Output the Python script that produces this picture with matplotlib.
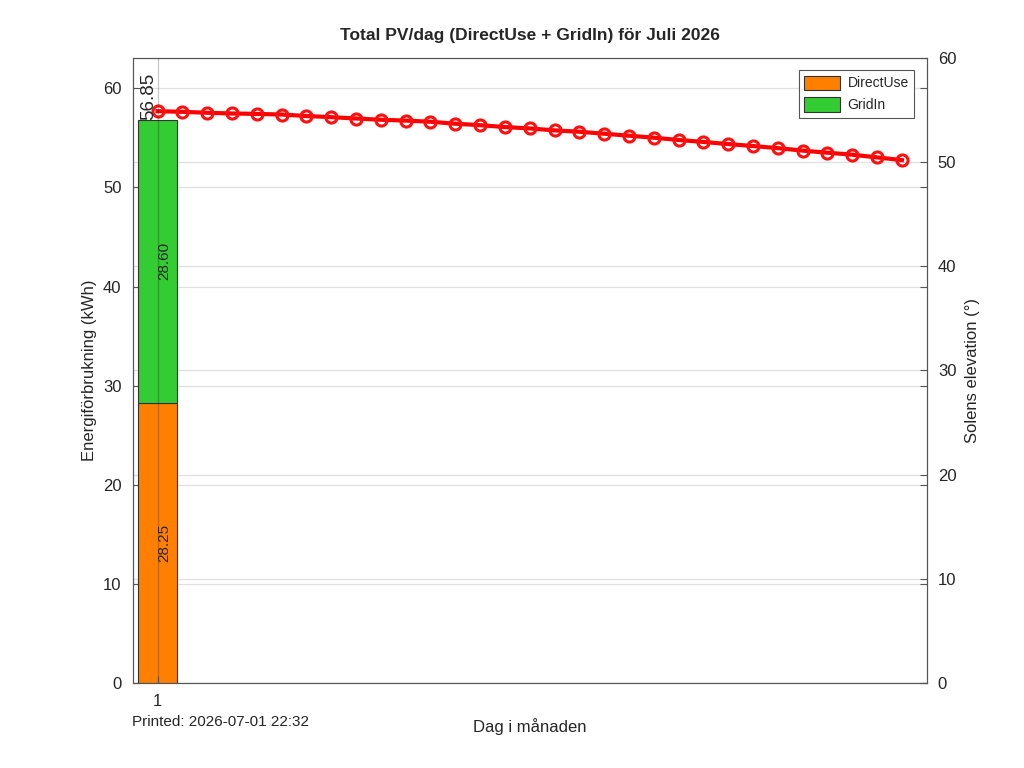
import numpy as np
import matplotlib.pyplot as plt

plt.rcParams['font.family'] = ['Liberation Sans', 'DejaVu Sans']
plt.rcParams['text.color'] = '#262626'
plt.rcParams['axes.labelcolor'] = '#262626'

## data
days = [1]
direct_use = [28.25]
grid_in = [28.60]
elev_days = list(range(1, 32))
elevation = [54.86, 54.80, 54.71, 54.64, 54.60, 54.54, 54.40, 54.29, 54.16, 54.04,
             53.96, 53.85, 53.66, 53.52, 53.34, 53.21, 53.02, 52.89, 52.70, 52.51,
             52.32, 52.10, 51.91, 51.71, 51.52, 51.32, 51.08, 50.88, 50.69, 50.43, 50.17]

title = 'Total PV/dag (DirectUse + GridIn) för Juli 2026'
printed = 'Printed: 2026-07-01 22:32'

orange = '#ff8000'
green = '#33cc33'
spine_col = '#555555'

fig = plt.figure(figsize=(10.24, 7.68), dpi=100)
ax = fig.add_axes([0.1296, 0.1103, 0.9050 - 0.1296, 0.9250 - 0.1103])
ax2 = ax.twinx()

## bars axis on top of the elevation axis
ax.set_zorder(ax2.get_zorder() + 1)
ax.patch.set_visible(False)

totals = np.array(direct_use) + np.array(grid_in)
b1 = ax.bar(days, direct_use, width=1.6, color=orange, edgecolor='#333333', linewidth=0.8, label='DirectUse')
b2 = ax.bar(days, grid_in, width=1.6, bottom=direct_use, color=green, edgecolor='#333333', linewidth=0.8, label='GridIn')

## value labels
for d, du, gi, tot in zip(days, direct_use, grid_in, totals):
    ax.text(d, du / 2, '%.2f' % du, rotation=90, ha='left', va='center', fontsize=11)
    ax.text(d, du + gi / 2, '%.2f' % gi, rotation=90, ha='left', va='center', fontsize=11)
    ax.text(d, tot, '%.2f' % tot, rotation=90, ha='right', va='bottom', fontsize=13.5)

ax.set_xlim(0, 32)
ax.set_ylim(0, 63.1)
ax.set_xticks(days)
ax.set_yticks([0, 10, 20, 30, 40, 50, 60])
ax.grid(True, axis='y', color='black', alpha=0.12, linewidth=0.9)
ax.grid(True, axis='x', color='black', alpha=0.22, linewidth=0.9)
ax.yaxis.set_zorder(0.5)   # horizontal grid under the bars
ax.xaxis.set_zorder(2.5)   # vertical grid over the bars
ax.tick_params(direction='in', length=5, color=spine_col, labelsize=12, labelcolor='#262626', right=True, pad=8)
ax.set_ylabel('Energiförbrukning (kWh)', fontsize=12)
ax.set_xlabel('Dag i månaden', fontsize=12, labelpad=6)
for s in ax.spines.values():
    s.set_color(spine_col)

ax2.plot(elev_days, elevation, color='#ff0000', linewidth=3, marker='o', markersize=8,
         markerfacecolor='none', markeredgewidth=2.2, markeredgecolor='#ff1010')
ax2.set_ylim(0, 60)
ax2.set_yticks([0, 10, 20, 30, 40, 50, 60])
ax2.grid(True, axis='y', color='black', alpha=0.12, linewidth=0.9)
ax2.tick_params(direction='in', length=5, color=spine_col, labelsize=12, labelcolor='#262626', pad=8)
ax2.set_ylabel('Solens elevation (°)', fontsize=12, labelpad=6)
for s in ax2.spines.values():
    s.set_color(spine_col)

leg = ax.legend([b1, b2], ['DirectUse', 'GridIn'], loc='upper right', fontsize=10,
                fancybox=False, edgecolor='#555555', framealpha=1,
                handlelength=2.6, handleheight=1.2, handletextpad=0.5, borderaxespad=0.9)
leg.get_frame().set_linewidth(0.8)

ax.set_title(title, fontsize=12.5, fontweight='bold', pad=13)
fig.text(0.129, 0.055, printed, fontsize=11)

fig.savefig('out.png', dpi=100)
